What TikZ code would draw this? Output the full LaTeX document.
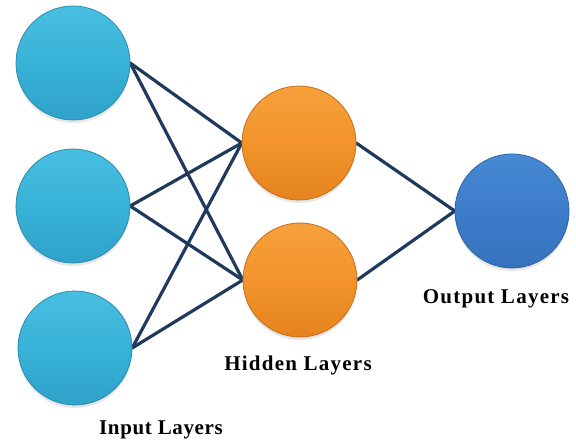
\documentclass[tikz,border=0pt]{standalone}
\usepackage{fontspec}
\setmainfont{Liberation Serif}
\usetikzlibrary{shadows}
\definecolor{linkc}{HTML}{1F3A5C}
\definecolor{inTop}{HTML}{48BFE1}
\definecolor{inMid}{HTML}{38B2D7}
\definecolor{inBot}{HTML}{2FA2CA}
\definecolor{inEdge}{HTML}{2A8CB0}
\definecolor{hdTop}{HTML}{F6A13C}
\definecolor{hdMid}{HTML}{F3932B}
\definecolor{hdBot}{HTML}{E5841F}
\definecolor{hdEdge}{HTML}{C86E1A}
\definecolor{otTop}{HTML}{4789D3}
\definecolor{otMid}{HTML}{3D7CC9}
\definecolor{otBot}{HTML}{3673BE}
\definecolor{otEdge}{HTML}{2D62A4}
\tikzset{
  ball/.style={circle, minimum size=114pt, inner sep=0pt, line width=0.8pt,
    drop shadow={opacity=0.2, shadow xshift=0pt, shadow yshift=-3pt}},
  inball/.style={ball, draw=inEdge, top color=inTop, bottom color=inBot, middle color=inMid},
  hdball/.style={ball, draw=hdEdge, top color=hdTop, bottom color=hdBot, middle color=hdMid},
  otball/.style={ball, draw=otEdge, top color=otTop, bottom color=otBot, middle color=otMid},
  anchorball/.style={circle, minimum size=114pt, inner sep=0pt},
  link/.style={draw=linkc, line width=3.2pt, line cap=round},
  lbl/.style={anchor=base, inner sep=0pt, font=\fontsize{21}{21}\selectfont\bfseries\addfontfeature{LetterSpace=6}}
}
\begin{document}
\begin{tikzpicture}[x=1pt,y=-1pt]
\useasboundingbox (0,0) rectangle (576,443);
\coordinate (c1) at (73,63);
\coordinate (c2) at (73,206);
\coordinate (c3) at (75,348);
\coordinate (c4) at (299,143);
\coordinate (c5) at (300,280);
\coordinate (c6) at (512,211);
% invisible anchors for links
\node[anchorball] (a1) at (c1) {};
\node[anchorball] (a2) at (c2) {};
\node[anchorball] (a3) at (c3) {};
\node[anchorball] (b1) at (c4) {};
\node[anchorball] (b2) at (c5) {};
\node[anchorball] (o1) at (c6) {};
\foreach \i in {a1,a2,a3}{
  \foreach \h in {b1,b2}{
    \draw[link] (\i.east) -- (\h.west);
  }
}
\draw[link] (b1.east) -- (o1.west);
\draw[link] (b2.east) -- (o1.west);
% balls
\node[inball] (i1) at (c1) {};
\node[inball] (i2) at (c2) {};
\node[inball] (i3) at (c3) {};
\node[hdball] (h1) at (c4) {};
\node[hdball] (h2) at (c5) {};
\node[otball] (o) at (c6) {};
% labels
\node[lbl, font=\fontsize{21}{21}\selectfont\bfseries\addfontfeature{LetterSpace=3}] (li) at (161,435) {Input Layers};
\node[lbl] (lh) at (298,371) {Hidden Layers};
\node[lbl] (lo) at (496,304) {Output Layers};
\end{tikzpicture}
\end{document}
